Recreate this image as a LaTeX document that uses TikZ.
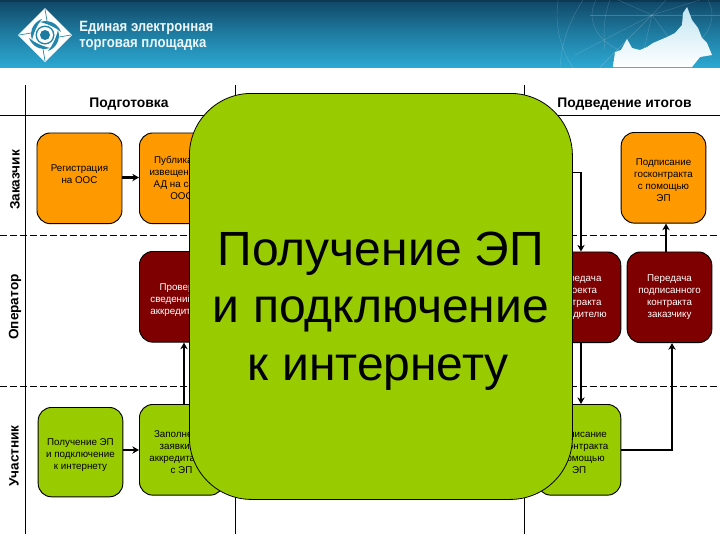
\documentclass[tikz,border=0pt]{standalone}
\usepackage{fontspec}
\setmainfont{Liberation Sans}
\usetikzlibrary{arrows.meta,shadings}
\definecolor{gorange}{HTML}{FF9900}
\definecolor{gred}{HTML}{7F0000}
\definecolor{ggreen}{HTML}{99CC00}
\definecolor{bantop}{HTML}{0F4666}
\definecolor{banbot}{HTML}{2CA8D2}
\newcommand{\fsz}[2]{\fontsize{#1}{#2}\selectfont}
\newcommand{\topstrut}[1]{\rule{0pt}{#1}}
\newcommand{\botstrut}[1]{\rule[-#1]{0pt}{1pt}}
\newcommand{\rsp}[1]{\hspace*{#1}}
\tikzset{
  x=0.75pt,y=-0.75pt,
  procbox/.style={draw=black,line width=0.7pt,rounded corners=10pt,inner sep=0pt,align=center,anchor=north west,font=\fsz{7.35}{9}},
  orbox/.style={procbox,fill=gorange,text=black},
  redbox/.style={procbox,fill=gred,text=white},
  grbox/.style={procbox,fill=ggreen,text=black},
  lane/.style={line width=0.75pt,black},
  sep/.style={line width=0.6pt,black,dash pattern=on 5pt off 2.5pt},
  flow/.style={line width=1.6pt,black,-{Stealth[length=5pt,width=5.5pt]}},
  flowthin/.style={line width=1.1pt,black,-{Stealth[length=5pt,width=5.5pt]}},
  head/.style={font=\fsz{10.4}{12}\bfseries,inner sep=0pt},
  lanelabel/.style={font=\fsz{10.2}{12}\bfseries,inner sep=0pt,rotate=90},
  bantext/.style={inner sep=0pt,anchor=base west,text=white!90!banbot,font=\fsz{11.2}{13}\bfseries},
  gridline/.style={white,opacity=.2,line width=.3pt},
}
\begin{document}
\begin{tikzpicture}
\useasboundingbox (0,0) rectangle (720,540);
\fill[white] (0,0) rectangle (720,540);
% banner
\shade[top color=bantop,bottom color=banbot,middle color=bantop!45!banbot] (0,0) rectangle (720,67);
\fill[bantop!80!black] (0,0) rectangle (720,1.5);
% globe grid
\begin{scope}
\clip (555,0) rectangle (720,67);
\draw[gridline] (652,15) circle (95);
\draw[gridline] (652,15) ellipse (60 and 42);
\draw[gridline] (590,15) -- (720,15);
\draw[gridline] (583,0) .. controls (570,20) and (562,40) .. (560,67);
\draw[gridline] (610,0) .. controls (604,15) and (603,30) .. (605,50);
\draw[gridline] (652,15) -- (600,67);
\draw[gridline] (652,15) -- (640,67);
\draw[gridline] (652,15) -- (618,0);
\draw[gridline] (652,15) -- (666,0);
\draw[gridline] (652,15) -- (700,0);
\draw[gridline] (652,15) -- (575,55);
\draw[gridline] (652,15) -- (672,42);
\end{scope}
% map
\shade[top color=white!70!banbot,bottom color=white,shading angle=0]
  (613,67) -- (615,52) -- (621,50) -- (627,39) -- (632,48) -- (640,50) -- (647,47) -- (653,43) -- (667,37) -- (675,33) -- (682,25) -- (683,13) -- (687,7) -- (689,12) -- (692,20) -- (698,28) -- (702,38) -- (707,43) -- (712,55) -- (700,57) -- (692,67) -- cycle;
% logo
\fill[white] (45,8) -- (72,35) -- (45,62) -- (18,35) -- cycle;
\foreach \a in {0,90,180,270}{
  \fill[banbot!65!bantop,rotate around={\a:(45,35)}] (40,22) .. controls (50,19) and (58,24) .. (61,32) .. controls (55,27) and (48,24) .. (40,22) -- cycle;
  \draw[banbot!65!bantop,line width=.5pt,rotate around={\a:(45,35)}] (45,9) -- (47,21);
}
\fill[banbot!65!bantop] (45,35) circle (9.5);
\fill[white] (45,35) circle (8);
\fill[bantop!45!banbot] (45,35) circle (5);
\node[bantext] (t1) at (79,31.5) {\scalebox{0.88}[1]{Единая электронная}};
\node[bantext] (t2) at (79,47.5) {\scalebox{0.88}[1]{торговая площадка}};
% lanes
\draw[lane] (25,85) -- (25,534);
\draw[lane] (235,85) -- (235,534);
\draw[lane] (524,85) -- (524,534);
\draw[lane] (0,115.5) -- (720,115.5);
\draw[sep] (0,235) -- (720,235);
\draw[sep] (0,386) -- (720,386);
\node[head] (h1) at (129,104.5) {Подготовка};
\node[head] (h2) at (624.5,104.5) {Подведение итогов};
\node[lanelabel] (l1) at (15,180) {Заказчик};
\node[lanelabel] (l2) at (15,307) {Оператор};
\node[lanelabel] (l3) at (14,456) {Участник};
% boxes
\node[orbox,minimum width=63.75pt,minimum height=68pt] (reg) at (36.5,132.5) {Регистрация\\на ООС\botstrut{7pt}};
\node[orbox,minimum width=63pt,minimum height=68pt] (pub) at (139,132.5) {Публикация\\извещения об\\АД на сайте\\ООС};
\node[redbox,minimum width=63pt,minimum height=68pt] (chk) at (139,251) {\topstrut{10.4pt}Проверка\\сведений для\\аккредитации};
\node[grbox,minimum width=63.5pt,minimum height=67pt] (get) at (37.7,407) {\topstrut{9pt}Получение ЭП\\и подключение\\к интернету};
\node[grbox,minimum width=63pt,minimum height=68pt] (fill) at (139,404) {\topstrut{9pt}Заполнение\\заявки на\\аккредитацию\\с ЭП};
\node[orbox,minimum width=63.5pt,minimum height=68pt] (sign) at (620.7,132) {\topstrut{9pt}Подписание\\госконтракта\\с помощью\\ЭП};
\node[redbox,minimum width=62.5pt,minimum height=68pt] (send) at (537,251.5) {Передача\\проекта\\контракта\\победителю};
\node[redbox,minimum width=63.5pt,minimum height=68pt] (send2) at (626.7,251.5) {Передача\\подписанного\\контракта\\заказчику};
\node[grbox,minimum width=62.5pt,minimum height=68pt] (part) at (537,404) {\topstrut{9pt}Подписание\\госконтракта\\с помощью\\ЭП};
% connectors
\coordinate (hid) at (560,172.5);
\draw[flow] (reg.east|-0,177.5) -- (pub.west|-0,177.5);
\draw[flow] (get.east|-0,450) -- (fill.west|-0,450);
\draw[flow] (184,0|-fill.north) -- (184,0|-chk.south);
\draw[flowthin] (hid) -- (581,0|-hid) -- (581,0|-send.north);
\draw[flow] (581,0|-send.south) -- (581,0|-part.north);
\draw[flowthin] (part.east|-0,450) -- (672,450) -- (672,0|-send2.south);
\draw[flow] (666,0|-send2.north) -- (666,0|-sign.south);
% overlay
\node[draw=black,line width=0.6pt,fill=ggreen,rounded corners=46.5pt,inner sep=0pt,anchor=north west,minimum width=287.25pt,minimum height=304.5pt,text width=287.25pt,align=flush center,text=black,font=\fsz{36}{36}] (big) at (189,93) {\topstrut{47pt}Получение ЭП\rsp{3.5pt}\\[7pt]и подключение\rsp{9pt}\\[7pt]к интернету\rsp{4pt}};
\end{tikzpicture}
\end{document}
